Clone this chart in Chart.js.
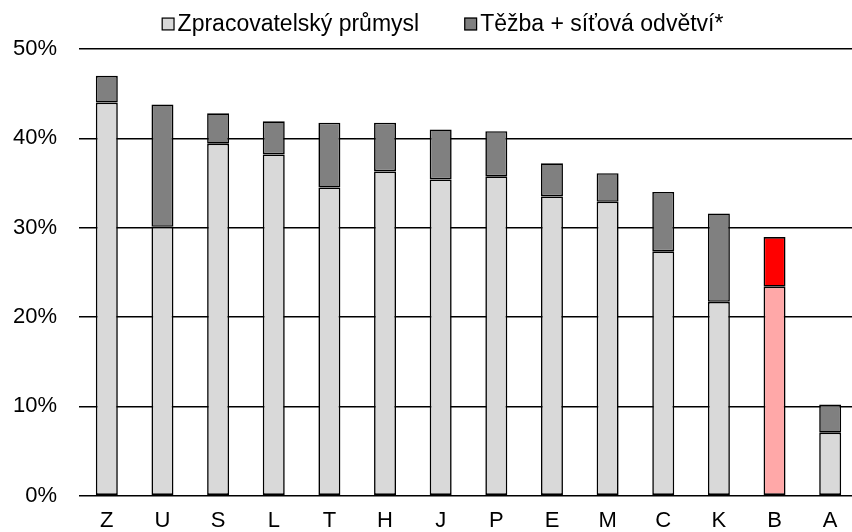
<!DOCTYPE html>
<html>
<head>
<meta charset="utf-8">
<script src="https://cdn.jsdelivr.net/npm/chart.js@4/dist/chart.umd.min.js"></script>
<style>
html,body{margin:0;padding:0;background:#fff;overflow:hidden;}
#wrap{width:860px;height:532px;}
</style>
</head>
<body>
<div id="wrap"><canvas id="c" width="860" height="532"></canvas></div>
<script>
const categories = ['Z','U','S','L','T','H','J','P','E','M','C','K','B','A'];
const manufacturing = [44.0, 30.1, 39.4, 38.2, 34.5, 36.3, 35.4, 35.75, 33.5, 32.9, 27.35, 21.7, 23.4, 7.05];
const miningNetwork = [3.0, 13.7, 3.4, 3.7, 7.25, 5.45, 5.6, 5.05, 3.7, 3.2, 6.65, 9.9, 5.55, 3.15];
const seriesNames = ['Zpracovatelský průmysl', 'Těžba + síťová odvětví*'];
const yTicks = [0, 10, 20, 30, 40, 50];
const highlight = 'B';

const FONT = '"Liberation Sans", Arial, sans-serif';
const manuColors = categories.map(c => c === highlight ? '#ffa8a8' : '#d9d9d9');
const minColors = categories.map(c => c === highlight ? '#ff0000' : '#808080');

const legendPlugin = {
  id: 'customLegend',
  afterDraw(chart) {
    const ctx = chart.ctx;
    ctx.save();
    ctx.font = '23px ' + FONT;
    ctx.textBaseline = 'alphabetic';
    const box = 13, gap = 3, itemGap = 45;
    const fills = ['#d9d9d9', '#808080'];
    const widths = seriesNames.map(n => box + gap + ctx.measureText(n).width);
    const total = widths[0] + itemGap + widths[1];
    let x = 442.5 - total / 2;
    seriesNames.forEach((n, i) => {
      ctx.fillStyle = fills[i];
      ctx.fillRect(x, 17.5, box, box);
      ctx.strokeStyle = '#000';
      ctx.lineWidth = 1.2;
      ctx.strokeRect(x + 0.6, 18.1, box - 1.2, box - 1.2);
      ctx.fillStyle = '#000';
      ctx.fillText(n, x + box + gap, 30.5);
      x += widths[i] + itemGap;
    });
    ctx.restore();
  }
};

new Chart(document.getElementById('c'), {
  type: 'bar',
  data: {
    labels: categories,
    datasets: [
      { label: seriesNames[0], data: manufacturing, backgroundColor: manuColors, borderColor: '#000', borderWidth: 1.6, borderSkipped: false },
      { label: seriesNames[1], data: miningNetwork, backgroundColor: minColors, borderColor: '#000', borderWidth: 1.6, borderSkipped: false }
    ]
  },
  options: {
    responsive: false,
    animation: false,
    devicePixelRatio: 1,
    layout: { padding: { top: 49, right: 2, left: 0, bottom: 0 } },
    datasets: { bar: { categoryPercentage: 0.395, barPercentage: 1 } },
    plugins: { legend: { display: false }, tooltip: { enabled: false } },
    scales: {
      x: {
        stacked: true,
        grid: { display: false, drawTicks: false },
        border: { display: false },
        ticks: { color: '#000', font: { family: FONT, size: 22 }, padding: 12, maxRotation: 0 },
        afterFit(s) { s.height = 36.3; }
      },
      y: {
        stacked: true,
        min: 0, max: 50,
        afterBuildTicks(s) { s.ticks = yTicks.map(v => ({ value: v })); },
        grid: { color: '#000', lineWidth: 1.6, drawTicks: false },
        border: { display: false },
        ticks: { color: '#000', font: { family: FONT, size: 22 }, padding: 22, callback: v => v + '%' },
        afterFit(s) { s.width = 79; }
      }
    }
  },
  plugins: [legendPlugin]
});
</script>
</body>
</html>
